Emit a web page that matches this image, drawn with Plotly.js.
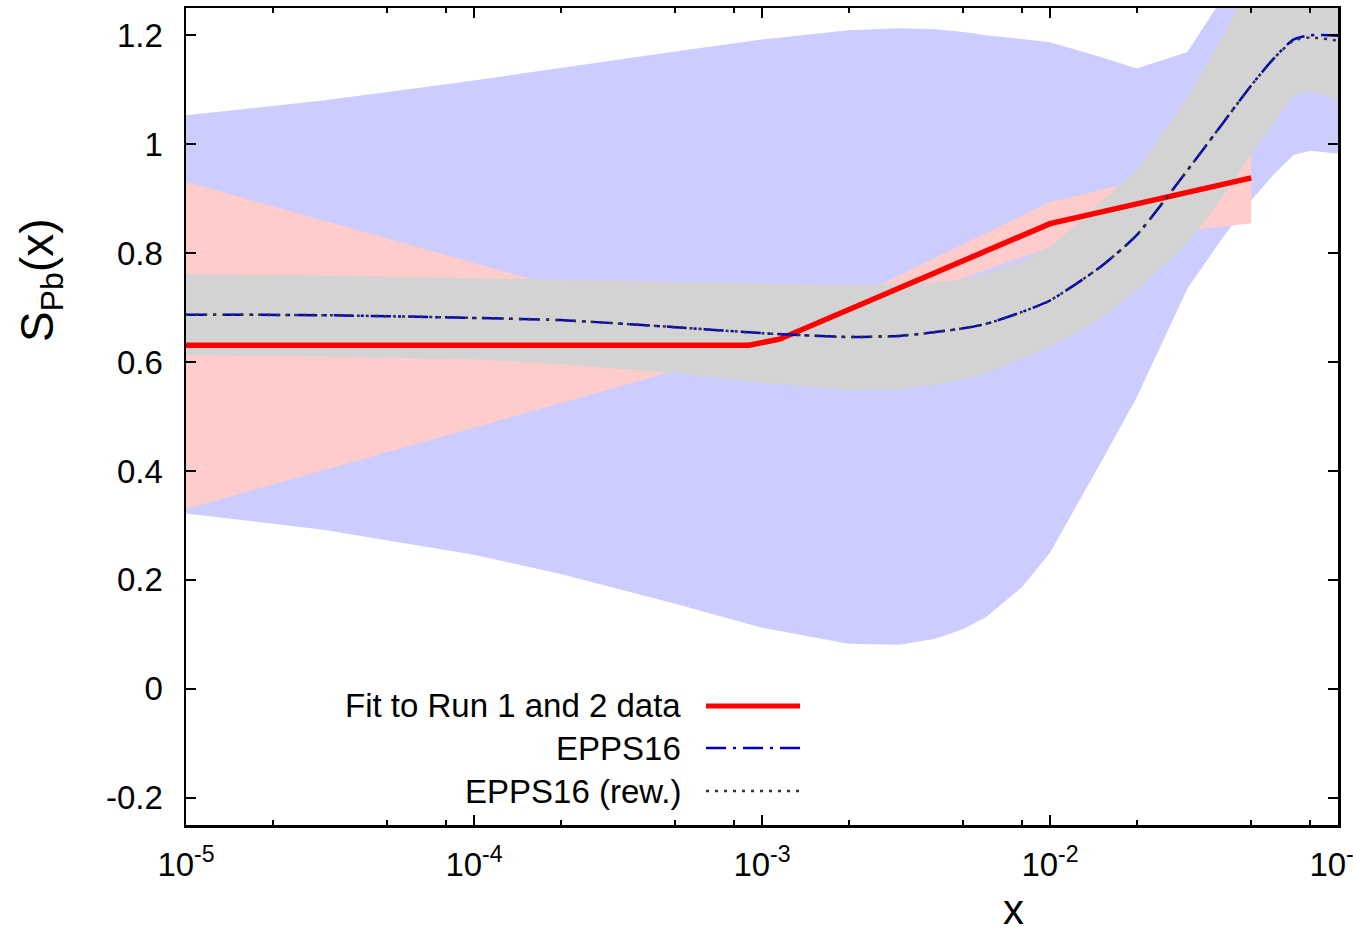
<!DOCTYPE html>
<html>
<head>
<meta charset="utf-8">
<script src="https://cdn.plot.ly/plotly-3.0.1.min.js"></script>
<style>
  html, body { margin: 0; padding: 0; background: #ffffff; }
  #chart { width: 1353px; height: 930px; }
</style>
</head>
<body>
<div id="chart"></div>
<script>
// ---------------- data ----------------
// x grid of the EPPS16 curves and bands
var xEpps = [1e-5, 3e-5, 1e-4, 2e-4, 5e-4, 1e-3, 2e-3, 3e-3, 4e-3, 5e-3, 6e-3, 8e-3,
             1e-2, 1.5e-2, 2e-2, 3e-2, 4e-2, 5e-2, 6e-2, 7e-2, 8e-2, 1e-1];
// EPPS16 uncertainty band (light blue)
var eppsUpper = [1.053, 1.080, 1.117, 1.140, 1.170, 1.192, 1.209, 1.213, 1.211, 1.206, 1.200, 1.193,
                 1.187, 1.160, 1.139, 1.169, 1.270, 1.350, 1.400, 1.430, 1.450, 1.460];
var eppsLower = [0.322, 0.292, 0.246, 0.211, 0.156, 0.112, 0.083, 0.081, 0.092, 0.110, 0.132, 0.187,
                 0.250, 0.415, 0.535, 0.735, 0.830, 0.897, 0.945, 0.980, 0.988, 0.983];
// EPPS16 central value (blue dash-dot)
var eppsCentral = [0.687, 0.686, 0.681, 0.677, 0.664, 0.653, 0.646, 0.648, 0.655, 0.662, 0.670, 0.692,
                   0.713, 0.775, 0.833, 0.952, 1.040, 1.108, 1.158, 1.192, 1.200, 1.199];
// EPPS16 reweighted central value (black dotted)
var rewCentral = [0.687, 0.686, 0.681, 0.677, 0.664, 0.653, 0.646, 0.648, 0.655, 0.662, 0.670, 0.692,
                  0.713, 0.775, 0.833, 0.952, 1.040, 1.108, 1.158, 1.190, 1.196, 1.190];
// EPPS16 reweighted uncertainty band (grey)
var rewUpper = [0.761, 0.759, 0.754, 0.751, 0.748, 0.745, 0.741, 0.743, 0.747, 0.752, 0.762, 0.785,
                0.811, 0.894, 0.952, 1.085, 1.200, 1.300, 1.350, 1.370, 1.380, 1.380];
var rewLower = [0.613, 0.610, 0.605, 0.596, 0.580, 0.562, 0.549, 0.550, 0.558, 0.568, 0.580, 0.607,
                0.628, 0.680, 0.732, 0.818, 0.905, 0.981, 1.040, 1.090, 1.098, 1.081];
// Fit to Run 1 and 2 data (red line and pink band)
var xFit = [1e-5, 9e-4, 1.15e-3, 1e-2, 5e-2];
var fitCentral = [0.631, 0.631, 0.642, 0.854, 0.938];
var fitUpper   = [0.931, 0.640, 0.652, 0.894, 0.982];
var fitLower   = [0.330, 0.622, 0.633, 0.811, 0.855];

// axis ticks
var xTickVals = [1e-5, 1e-4, 1e-3, 1e-2, 1e-1];
var xTickText = ['10<sup>-5</sup>', '10<sup>-4</sup>', '10<sup>-3</sup>', '10<sup>-2</sup>', '10<sup>-1</sup>'];
var xMinorVals = [2e-5, 5e-5, 8e-5, 2e-4, 5e-4, 8e-4, 2e-3, 5e-3, 8e-3, 2e-2, 5e-2, 8e-2];
var yTickVals = [-0.2, 0, 0.2, 0.4, 0.6, 0.8, 1, 1.2];
var yTickText = ['-0.2', '0', '0.2', '0.4', '0.6', '0.8', '1', '1.2'];

// legend labels
var legendLabels = ['Fit to Run 1 and 2 data', 'EPPS16', 'EPPS16 (rew.)'];

// ---------------- helpers ----------------
function band(x, up, lo) {
  return {
    x: x.concat(x.slice().reverse()),
    y: up.concat(lo.slice().reverse())
  };
}

var FONT = 'Liberation Sans, Arial, Helvetica, sans-serif';
var FS = 33;
var COL_BLUEBAND = '#ccccff';
var COL_PINK = '#ffcccc';
var COL_GREY = '#d3d3d3';
var COL_RED = '#ff0000';
var COL_BLUE = '#0000cc';
var COL_DOT = '#333333';
var DASHDOT = '20px,7px,3px,7px';
var DOTTED = '3px,6px';

var bE = band(xEpps, eppsUpper, eppsLower);
var bR = band(xEpps, rewUpper, rewLower);
var bF = band(xFit, fitUpper, fitLower);

var traces = [
  { x: bE.x, y: bE.y, type: 'scatter', mode: 'lines', fill: 'toself',
    fillcolor: COL_BLUEBAND, line: { width: 0 }, hoverinfo: 'skip', showlegend: false },
  { x: bF.x, y: bF.y, type: 'scatter', mode: 'lines', fill: 'toself',
    fillcolor: COL_PINK, line: { width: 0 }, hoverinfo: 'skip', showlegend: false },
  { x: bR.x, y: bR.y, type: 'scatter', mode: 'lines', fill: 'toself',
    fillcolor: COL_GREY, line: { width: 0 }, hoverinfo: 'skip', showlegend: false },
  { x: xFit, y: fitCentral, type: 'scatter', mode: 'lines', name: legendLabels[0],
    line: { color: COL_RED, width: 5.5 }, showlegend: false },
  { x: xEpps, y: eppsCentral, type: 'scatter', mode: 'lines', name: legendLabels[1],
    line: { color: COL_BLUE, width: 2.5, dash: DASHDOT, shape: 'spline', smoothing: 0.6 }, showlegend: false },
  { x: xEpps, y: rewCentral, type: 'scatter', mode: 'lines', name: legendLabels[2],
    line: { color: COL_DOT, width: 2.5, dash: DOTTED, shape: 'spline', smoothing: 0.6 }, showlegend: false }
];

// plot-area geometry in paper units
var legendTextX = 0.4314;
var legendY = [0.1457, 0.0942, 0.0416];
var sampleX0 = 0.4514, sampleX1 = 0.533;

var annotations = [];
var shapes = [];
var sampleStyles = [
  { color: COL_RED, width: 5, dash: 'solid' },
  { color: COL_BLUE, width: 2.5, dash: DASHDOT },
  { color: COL_DOT, width: 2.5, dash: DOTTED }
];
for (var i = 0; i < legendLabels.length; i++) {
  annotations.push({
    xref: 'paper', yref: 'paper', x: legendTextX, y: legendY[i],
    xanchor: 'right', yanchor: 'middle', showarrow: false,
    text: legendLabels[i], font: { family: FONT, size: FS, color: '#000' }
  });
  shapes.push({
    type: 'line', xref: 'paper', yref: 'paper',
    x0: sampleX0, x1: sampleX1, y0: legendY[i], y1: legendY[i],
    line: sampleStyles[i]
  });
}
// axis titles
annotations.push({
  xref: 'paper', yref: 'paper', x: -0.1267, y: 0.667, xanchor: 'center', yanchor: 'middle',
  textangle: -90, showarrow: false, text: 'S<sub>Pb</sub>(x)',
  font: { family: FONT, size: 46, color: '#000' }
});
annotations.push({
  xref: 'paper', yref: 'paper', x: 0.718, y: -0.104, xanchor: 'center', yanchor: 'middle',
  showarrow: false, text: 'x', font: { family: FONT, size: 42, color: '#000' }
});

var layout = {
  width: 1353, height: 930,
  margin: { l: 186, r: 15, t: 8, b: 105, pad: 0 },
  paper_bgcolor: '#ffffff', plot_bgcolor: '#ffffff',
  font: { family: FONT, size: FS, color: '#000' },
  showlegend: false,
  xaxis: {
    type: 'log', range: [-5, -1], autorange: false,
    tickmode: 'array', tickvals: xTickVals, ticktext: xTickText,
    ticks: 'inside', ticklen: 10, tickwidth: 2, tickcolor: '#000',
    showline: true, linecolor: '#000', linewidth: 2.5, mirror: 'ticks',
    showgrid: false, zeroline: false,
    ticklabelstandoff: 9, ticklabeloverflow: 'allow',
    tickfont: { family: FONT, size: FS, color: '#000' },
    minor: { tickmode: 'array', tickvals: xMinorVals, ticks: 'inside', ticklen: 5,
             tickwidth: 2, tickcolor: '#000', showgrid: false }
  },
  yaxis: {
    range: [-0.25, 1.25], autorange: false,
    tickmode: 'array', tickvals: yTickVals, ticktext: yTickText,
    ticks: 'inside', ticklen: 10, tickwidth: 2, tickcolor: '#000',
    showline: true, linecolor: '#000', linewidth: 2.5, mirror: 'ticks',
    showgrid: false, zeroline: false,
    ticklabelstandoff: 14,
    tickfont: { family: FONT, size: FS, color: '#000' }
  },
  annotations: annotations,
  shapes: shapes
};

Plotly.newPlot('chart', traces, layout, { staticPlot: true, displayModeBar: false });
</script>
</body>
</html>
